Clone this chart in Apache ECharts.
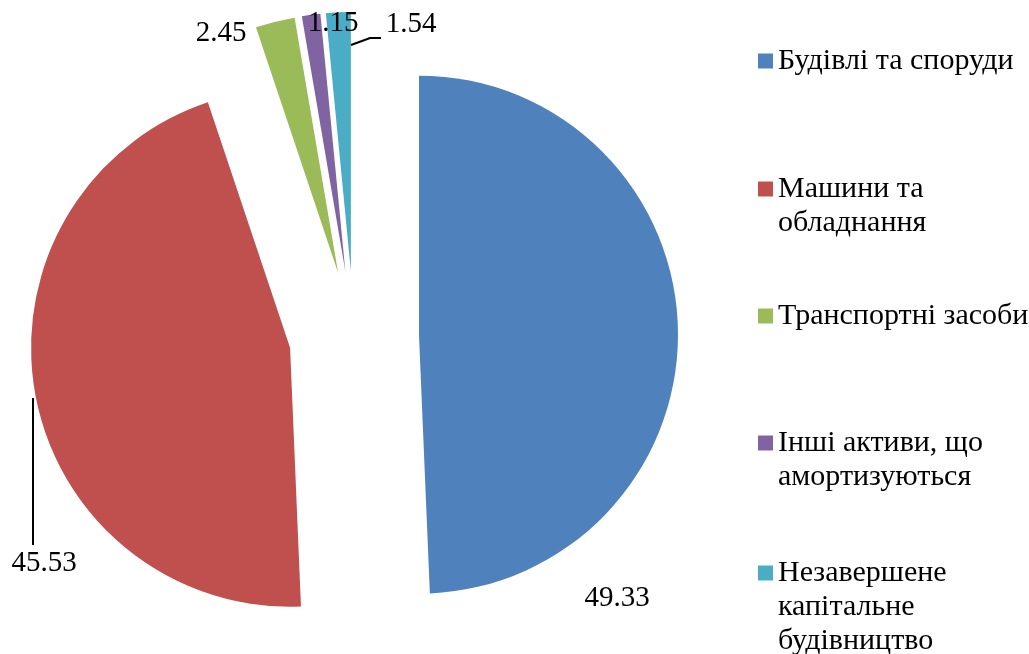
<!DOCTYPE html>
<html>
<head>
<meta charset="utf-8">
<script src="https://cdn.jsdelivr.net/npm/echarts@6/dist/echarts.min.js"></script>
<style>
html, body { margin: 0; padding: 0; background: #fff; }
#chart { width: 1029px; height: 654px; }
</style>
</head>
<body>
<div id="chart"></div>
<script>
// categories and values (%)
var categories = [
    'Будівлі та споруди',
    'Машини та\nобладнання',
    'Транспортні засоби',
    'Інші активи, що\nамортизуються',
    'Незавершене\nкапітальне\nбудівництво'
];
var values = [49.33, 45.53, 2.45, 1.15, 1.54];
var colors = ['#4F81BD', '#C0504D', '#9BBB59', '#8064A2', '#4BACC6'];

// layout of labels / legend (not data)
var labelPos = [[617, 598], [44, 563], [221, 33], [333, 23], [411, 24]];
var leaderLines = [null, [[33, 398], [33, 470], [33, 545]], null, null, [[351, 45], [370, 38], [381, 38]]];
var legendIconY = [61, 189, 316, 443, 573];

var font = '"Liberation Serif", "Times New Roman", serif';
var lineH = 34;

var chart = echarts.init(document.getElementById('chart'));

// exploded slices
var pieData = [];
// same slices, invisible, only carry the data labels
var labelData = [];
for (var i = 0; i < values.length; i++) {
    pieData.push({
        name: categories[i],
        value: values[i],
        selected: true,
        itemStyle: { color: colors[i] }
    });
    labelData.push({
        name: categories[i],
        value: values[i],
        labelLine: { show: leaderLines[i] != null }
    });
}

var legends = [];
for (var k = 0; k < categories.length; k++) {
    var nLines = categories[k].split('\n').length;
    legends.push({
        orient: 'vertical',
        left: 758,
        top: legendIconY[k] - lineH / 2 - (nLines - 1) * lineH,
        padding: 0,
        itemWidth: 15,
        itemHeight: 15,
        selectedMode: false,
        icon: 'rect',
        data: [categories[k]],
        // empty lines above so the icon sits on the first text line
        formatter: (function (n) {
            return function (name) {
                return new Array(n).join('\n') + name;
            };
        })(nLines),
        textStyle: {
            fontFamily: font,
            fontSize: 30,
            lineHeight: lineH,
            color: '#000'
        }
    });
}

var option = {
    animation: false,
    legend: legends,
    series: [{
        type: 'pie',
        z: 2,
        center: [354, 336],
        radius: [0, 259],
        startAngle: 90,
        clockwise: true,
        selectedMode: 'multiple',
        selectedOffset: 65,
        silent: true,
        label: { show: false },
        labelLine: { show: false },
        data: pieData
    }, {
        type: 'pie',
        z: 10,
        center: [354, 336],
        radius: [0, 259],
        startAngle: 90,
        clockwise: true,
        silent: true,
        avoidLabelOverlap: false,
        itemStyle: { color: 'rgba(0,0,0,0)' },
        label: {
            show: true,
            position: 'outside',
            formatter: function (p) { return p.value.toFixed(2); },
            fontFamily: font,
            fontSize: 29,
            color: '#000'
        },
        labelLine: {
            lineStyle: { color: '#000', width: 2 }
        },
        labelLayout: function (params) {
            var i = params.dataIndex;
            var out = {
                x: labelPos[i][0],
                y: labelPos[i][1],
                align: 'center',
                verticalAlign: 'middle'
            };
            if (leaderLines[i]) out.labelLinePoints = leaderLines[i];
            return out;
        },
        data: labelData
    }]
};
chart.setOption(option);
</script>
</body>
</html>
